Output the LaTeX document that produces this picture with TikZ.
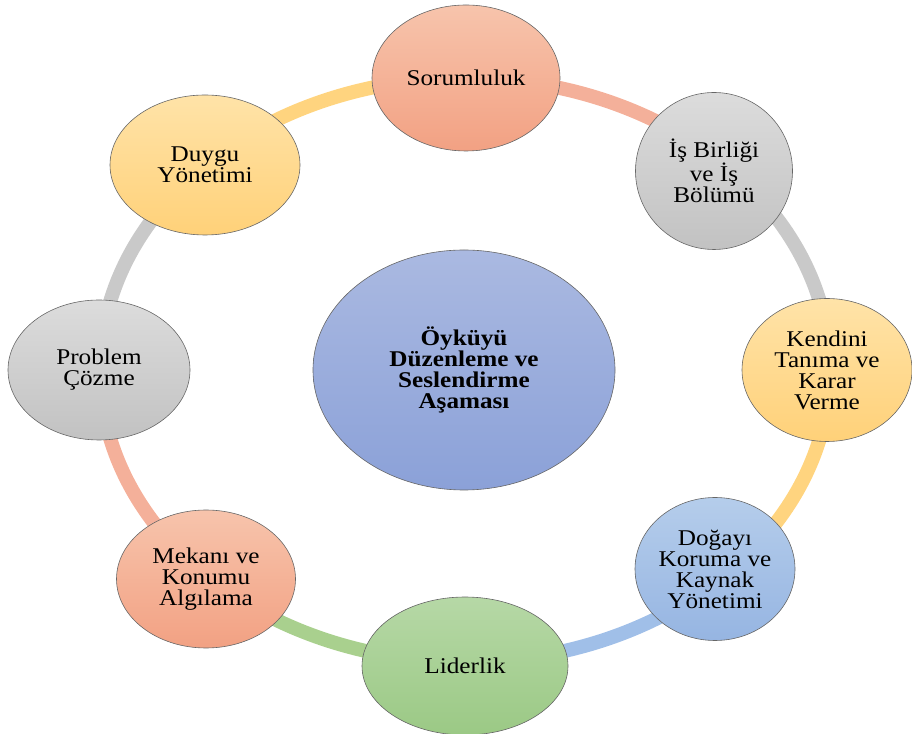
\documentclass[tikz,border=0pt]{standalone}
\usepackage{fontspec}
\setmainfont{Liberation Serif}[FakeStretch=1.12]
\usetikzlibrary{shapes.geometric}
\definecolor{salT}{HTML}{F7C4AC}
\definecolor{salB}{HTML}{F2A183}
\definecolor{gryT}{HTML}{DCDCDC}
\definecolor{gryB}{HTML}{C2C2C2}
\definecolor{yelT}{HTML}{FFE3A8}
\definecolor{yelB}{HTML}{FFD179}
\definecolor{bluT}{HTML}{B5CDEB}
\definecolor{bluB}{HTML}{96B5E2}
\definecolor{grnT}{HTML}{B6D8A6}
\definecolor{grnB}{HTML}{9BC985}
\definecolor{cenT}{HTML}{AAB9E1}
\definecolor{cenB}{HTML}{8BA1D8}
\definecolor{salR}{HTML}{F4B09A}
\definecolor{gryR}{HTML}{C9C9C9}
\definecolor{yelR}{HTML}{FFD47F}
\definecolor{bluR}{HTML}{A0BFE8}
\definecolor{grnR}{HTML}{A9D08E}
\begin{document}
\begin{tikzpicture}[x=1pt,y=1pt,
  bub/.style={shape=ellipse, draw=black!60, line width=0.6pt, inner sep=0pt,
    align=center, font=\fontsize{22.5}{21}\selectfont},
  ringarc/.style={line width=14pt},
  salbub/.style={bub, top color=salT, bottom color=salB},
  grybub/.style={bub, top color=gryT, bottom color=gryB},
  yelbub/.style={bub, top color=yelT, bottom color=yelB},
  blubub/.style={bub, top color=bluT, bottom color=bluB},
  grnbub/.style={bub, top color=grnT, bottom color=grnB}]
\useasboundingbox (0,0) rectangle (912,733);
\coordinate (c) at (465,363);
\path (c) ++(90:365 and 292) coordinate (p1);
\path (c) ++(45:365 and 292) coordinate (p2);
\path (c) ++(0:365 and 292) coordinate (p3);
\path (c) ++(-45:365 and 292) coordinate (p4);
\path (c) ++(-90:365 and 292) coordinate (p5);
\path (c) ++(-135:365 and 292) coordinate (p6);
\path (c) ++(180:365 and 292) coordinate (p7);
\path (c) ++(135:365 and 292) coordinate (p8);
\draw[ringarc, salR] (p1) arc[start angle=90, end angle=45, x radius=365, y radius=292];
\draw[ringarc, gryR] (p2) arc[start angle=45, end angle=0, x radius=365, y radius=292];
\draw[ringarc, yelR] (p3) arc[start angle=0, end angle=-45, x radius=365, y radius=292];
\draw[ringarc, bluR] (p4) arc[start angle=-45, end angle=-90, x radius=365, y radius=292];
\draw[ringarc, grnR] (p5) arc[start angle=-90, end angle=-135, x radius=365, y radius=292];
\draw[ringarc, salR] (p6) arc[start angle=-135, end angle=-180, x radius=365, y radius=292];
\draw[ringarc, gryR] (p7) arc[start angle=180, end angle=135, x radius=365, y radius=292];
\draw[ringarc, yelR] (p8) arc[start angle=135, end angle=90, x radius=365, y radius=292];

\node[salbub, minimum width=188pt, minimum height=146pt] (sor) at (466,655) {Sorumluluk};
\node[grybub, minimum width=157pt, minimum height=157pt] (isb) at (714,562) {İş Birliği\\ve İş\\Bölümü};
\node[yelbub, minimum width=170pt, minimum height=143pt] (ken) at (827,363) {Kendini\\Tanıma ve\\Karar\\Verme};
\node[blubub, minimum width=160pt, minimum height=143pt] (dog) at (715,164) {Doğayı\\Koruma ve\\Kaynak\\Yönetimi};
\node[grnbub, minimum width=206pt, minimum height=138pt] (lid) at (465,67) {Liderlik};
\node[salbub, minimum width=179pt, minimum height=138pt] (mek) at (206,154) {Mekanı ve\\Konumu\\Algılama};
\node[grybub, minimum width=182pt, minimum height=140pt] (pro) at (99,363) {Problem\\Çözme};
\node[yelbub, minimum width=190pt, minimum height=140pt] (duy) at (205,568) {Duygu\\Yönetimi};
\node[bub, top color=cenT, bottom color=cenB, minimum width=302pt, minimum height=240pt,
  font=\fontsize{22.5}{21}\selectfont\bfseries] (cen) at (464,363) {Öyküyü\\Düzenleme ve\\Seslendirme\\Aşaması};
\end{tikzpicture}
\end{document}
